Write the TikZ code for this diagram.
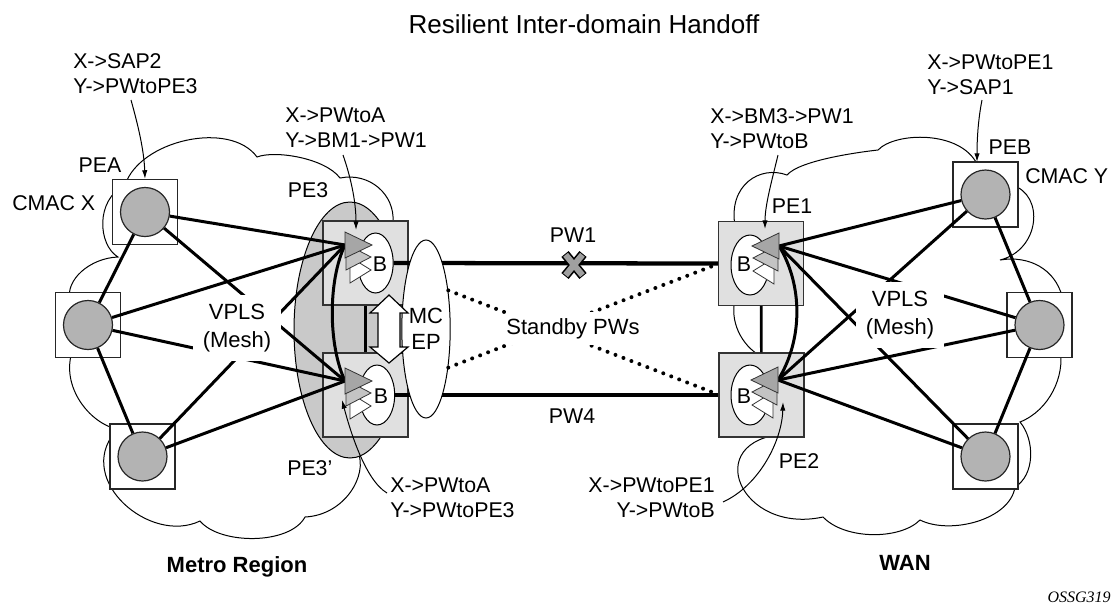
\documentclass[tikz,border=0pt]{standalone}
\usepackage{fontspec}
\setmainfont{Liberation Sans}
\newfontfamily\osfont{Liberation Serif}
\usetikzlibrary{shapes.geometric,arrows.meta,calc}
\definecolor{circgray}{HTML}{B3B3B3}
\definecolor{grpgray}{HTML}{C9C9C9}
\definecolor{boxgray}{HTML}{E0E0E0}
\definecolor{tridark}{HTML}{A6A6A6}
\definecolor{trimid}{HTML}{C4C4C4}
\definecolor{xgray}{HTML}{A0A0A0}
\newcommand\trisR[2]{%
  \filldraw[tri,fill=white] ({#1+5},{#2+25}) -- ({#1+5},{#2+51}) -- ({#1+26},{#2+38}) -- cycle;
  \filldraw[tri,fill=trimid] ({#1+1},{#2+12}) -- ({#1+1},{#2+38}) -- ({#1+26},{#2+25}) -- cycle;
  \filldraw[tri,fill=tridark] (#1,#2) -- (#1,{#2+26}) -- ({#1+27},{#2+13}) -- cycle;}
\newcommand\trisL[2]{%
  \filldraw[tri,fill=white] ({#1-5},{#2+25}) -- ({#1-5},{#2+51}) -- ({#1-26},{#2+38}) -- cycle;
  \filldraw[tri,fill=trimid] ({#1-1},{#2+12}) -- ({#1-1},{#2+38}) -- ({#1-26},{#2+25}) -- cycle;
  \filldraw[tri,fill=tridark] (#1,#2) -- (#1,{#2+26}) -- ({#1-27},{#2+13}) -- cycle;}
\begin{document}
\begin{tikzpicture}[x=0.75pt,y=-0.75pt,
  cloudl/.style={line width=0.75pt},
  sbox/.style={rectangle,draw=black!85,line width=0.9pt,fill=white,minimum width=48.75pt,minimum height=48.75pt,inner sep=0},
  scirc/.style={circle,draw=black!85,line width=0.9pt,fill=circgray,minimum size=36.75pt,inner sep=0},
  pebox/.style={rectangle,draw=black!80,line width=0.9pt,fill=boxgray,minimum width=63.75pt,minimum height=63pt,inner sep=0},
  bell/.style={ellipse,draw,line width=0.75pt,fill=white,minimum width=26.5pt,minimum height=45pt,inner sep=0},
  grp/.style={ellipse,draw,line width=0.75pt,fill=grpgray,minimum width=84pt,minimum height=192pt,inner sep=0},
  mcell/.style={ellipse,draw,line width=0.75pt,fill=white,minimum width=36pt,minimum height=133.5pt,inner sep=0,align=center,font=\fontsize{16.5}{19.5}\selectfont},
  tri/.style={draw=black!80,line width=0.6pt},
  link/.style={line width=2pt},
  mesh/.style={line width=2.25pt},
  pw/.style={line width=3.2pt},
  standby/.style={line width=3pt,dash pattern=on 0pt off 6.4pt,line cap=round},
  annot/.style={line width=0.75pt,-{Latex[length=6.5pt,width=4pt]}},
  txt/.style={font=\fontsize{16}{18.75}\selectfont,inner sep=0},
  vpls/.style={font=\fontsize{16.5}{21}\selectfont,align=center,fill=white,inner sep=7pt}
]
\useasboundingbox (0,0) rectangle (1112,604);

% ---------- clouds ----------
\draw[cloudl] (125,185) .. controls (140,140) and (230,120) .. (257,157)
  .. controls (275,150) and (325,158) .. (340,178)
  .. controls (370,172) and (395,195) .. (393,222)
  -- (400,300) -- (392,430) -- (370,436) -- (358,452)
  .. controls (368,475) and (345,515) .. (305,517)
  .. controls (290,545) and (220,545) .. (200,521)
  .. controls (150,545) and (75,480) .. (115,432)
  -- (125,430)
  .. controls (95,430) and (60,390) .. (72,352)
  -- (70,300)
  .. controls (65,280) and (90,258) .. (118,257)
  .. controls (98,245) and (95,200) .. (125,185) -- cycle;
\draw[cloudl] (735,226) .. controls (728,185) and (760,165) .. (787,175)
  .. controls (800,160) and (860,152) .. (878,150)
  .. controls (895,132) and (960,130) .. (977,164)
  -- (1012,185)
  .. controls (1045,195) and (1040,250) .. (1000,260)
  .. controls (1030,255) and (1055,270) .. (1062,296)
  -- (1060,350)
  .. controls (1065,375) and (1050,410) .. (1020,422)
  .. controls (1035,440) and (1035,475) .. (1015,487)
  .. controls (1010,520) and (950,535) .. (920,520)
  .. controls (900,540) and (845,540) .. (823,517)
  .. controls (740,535) and (700,440) .. (785,434)
  -- (762,357)
  .. controls (740,345) and (730,320) .. (735,300) -- cycle;

% ---------- PE3 group and PE boxes ----------
\node[grp] (pe3grp) at (350,330) {};
\node[pebox] (pe3) at (365.5,263) {};
\node[pebox] (pe3p) at (365.5,395) {};
\node[pebox] (pe1) at (761,263.5) {};
\node[pebox] (pe2) at (761.5,395) {};
\draw[link] (pe3) -- (pe3p);
\draw[link] (pe1) -- (pe2);

\node[bell] (b3) at (375.5,263) {};
\node[bell] (b3p) at (377,395) {};
\node[bell,minimum width=28.5pt] (b1) at (750,265) {};
\node[bell,minimum width=28.5pt] (b2) at (750,395) {};

% ---------- pseudowires ----------
\draw[pw] (b3.east) -- (pe1.west);
\draw[pw] (b3p.east) -- (pe2.west);
\node[mcell] (mcep) at (426,329) {MC\\EP};
\draw[standby] (mcep.60) -- ($(pe2.west)+(-4,-2)$);
\draw[standby] (mcep.-60) -- ($(pe1.west)+(-4,2)$);

% double arrow
\draw[line width=0.9pt,fill=white] (389,295) -- (408,313) -- (400,313) -- (400,347) -- (408,347)
  -- (389,363) -- (370,347) -- (378,347) -- (378,313) -- (370,313) -- cycle;

% ---------- CE boxes ----------
\node[sbox] (peabox) at (145,212) {};
\node[sbox] (lftbox) at (88,325) {};
\node[sbox] (llobox) at (142.5,456.5) {};
\node[sbox] (pebbox) at (985.5,194.5) {};
\node[sbox] (rgtbox) at (1039.5,325) {};
\node[sbox] (rlobox) at (985.5,456.5) {};
\node[scirc] (pea) at (145,212) {};
\node[scirc] (lft) at (88,325) {};
\node[scirc] (llo) at (142.5,456.5) {};
\node[scirc] (peb) at (985.5,194.5) {};
\node[scirc] (rgt) at (1039.5,325) {};
\node[scirc] (rlo) at (985.5,456.5) {};

\coordinate (t3) at (345,245);
\coordinate (t3p) at (345,381);
\coordinate (t1) at (779,246);
\coordinate (t2) at (778,380);

% mesh
\draw[mesh] (pea) -- (t3);
\draw[mesh] (pea) -- (t3p);
\draw[mesh] (pea) -- (lft);
\draw[mesh] (lft) -- (t3);
\draw[mesh] (lft) -- (t3p);
\draw[mesh] (lft) -- (llo);
\draw[mesh] (llo) -- (t3);
\draw[mesh] (llo) -- (t3p);
\draw[mesh] (peb) -- (t1);
\draw[mesh] (peb) -- (t2);
\draw[mesh] (peb) -- (rgt);
\draw[mesh] (rgt) -- (t1);
\draw[mesh] (rgt) -- (t2);
\draw[mesh] (rgt) -- (rlo);
\draw[mesh] (rlo) -- (t1);
\draw[mesh] (rlo) -- (t2);
\draw[mesh] (t3) .. controls (328,280) and (328,345) .. (t3p);
\draw[mesh] (t1) .. controls (803,285) and (803,340) .. (t2);

% triangles
\trisR{345}{232}
\trisR{345}{368}
\trisL{779}{233}
\trisL{778}{367}

\node[txt,anchor=base] (bt3) at (380,271) {B};
\node[txt,anchor=base] (bt3p) at (381,403) {B};
\node[txt,anchor=base] (bt1) at (744,271) {B};
\node[txt,anchor=base] (bt2) at (744,403) {B};

% labels over lines
\node[vpls] (vplsL) at (237,328) {VPLS\\(Mesh)};
\node[vpls] (vplsR) at (900,315) {VPLS\\(Mesh)};
\node[txt,font=\fontsize{16.5}{19}\selectfont,fill=white,inner xsep=0pt,inner ysep=4.7pt] (sby) at (573,328.5) {Standby PWs};

% failure X
\draw[line width=7pt,line cap=butt] (565,254) -- (583,276) (583,254) -- (565,276);
\draw[line width=4.6pt,xgray,line cap=butt] (565.6,254.8) -- (582.4,275.2) (582.4,254.8) -- (565.6,275.2);

\node[txt,anchor=base] (pw1) at (573,242) {PW1};
\node[txt,anchor=base] (pw4) at (572,423) {PW4};

% ---------- names ----------
\node[txt,anchor=base] (lpea) at (100,172) {PEA};
\node[txt,anchor=base west] (lcx) at (12,210) {CMAC X};
\node[txt,anchor=base] (lpe3) at (308,197) {PE3};
\node[txt,anchor=base west] (lpe3p) at (287,475) {PE3’};
\node[txt,anchor=base] (lpe1) at (792,213) {PE1};
\node[txt,anchor=base] (lpe2) at (799,468) {PE2};
\node[txt,anchor=base] (lpeb) at (1010,154) {PEB};
\node[txt,anchor=base west] (lcy) at (1025,183) {CMAC Y};

% ---------- annotations ----------
\node[txt,align=left,anchor=north west] (a1) at (73,53) {X->SAP2\\Y->PWtoPE3};
\node[txt,align=left,anchor=north west] (a2) at (285,108) {X->PWtoA\\Y->BM1->PW1};
\node[txt,align=left,anchor=north west] (a3) at (710,108) {X->BM3->PW1\\Y->PWtoB};
\node[txt,align=left,anchor=north west] (a4) at (927,55) {X->PWtoPE1\\Y->SAP1};
\node[txt,align=left,anchor=north west] (a5) at (390,478) {X->PWtoA\\Y->PWtoPE3};
\node[txt,align=right,anchor=north east] (a6) at (715,478) {X->PWtoPE1\\Y->PWtoB};

\coordinate (s1) at (131,100);
\coordinate (s2) at (343,155);
\coordinate (e2) at (356,230);
\coordinate (s3) at (778,155);
\coordinate (e3) at (765,229);
\coordinate (s4) at (982,100);
\coordinate (e4) at (977,162);
\coordinate (s5) at (387,493);
\coordinate (e5) at (342,400);
\coordinate (s6) at (723,502);
\coordinate (e6) at (783,402);
\draw[annot] (s1) .. controls (138,125) and (144,150) .. (peabox.north);
\draw[annot] (s2) .. controls (350,175) and (356,200) .. (e2);
\draw[annot] (s3) .. controls (772,180) and (765,205) .. (e3);
\draw[annot] (s4) .. controls (978,120) and (977,140) .. (e4);
\draw[annot] (s5) .. controls (365,480) and (350,430) .. (e5);
\draw[annot] (s6) .. controls (760,485) and (782,440) .. (e6);

% ---------- titles ----------
\node[anchor=base,inner sep=0,font=\fontsize{19.5}{22}\selectfont] (title) at (584,33) {Resilient Inter-domain Handoff};
\node[anchor=base,inner sep=0,font=\fontsize{16.5}{19}\selectfont\bfseries] (metro) at (237,572) {Metro Region};
\node[anchor=base,inner sep=0,font=\fontsize{16.5}{19}\selectfont\bfseries] (wan) at (905,570) {WAN};
\node[anchor=base east,inner sep=0,font=\fontsize{12}{14}\osfont\itshape] (oss) at (1111,602) {OSSG319};
\end{tikzpicture}
\end{document}
